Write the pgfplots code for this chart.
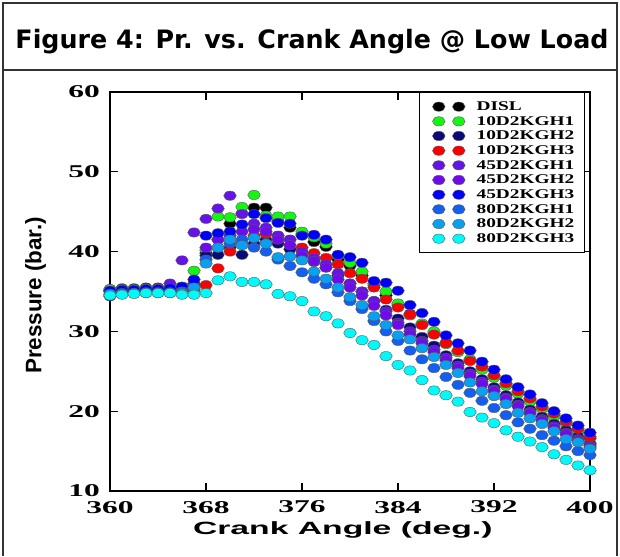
\documentclass[border=0pt]{standalone}
\usepackage{pgfplots}
\pgfplotsset{compat=1.18}
\usepackage{pgfplotstable}
\usepackage{fontspec}
\setmainfont{Liberation Serif}
\newfontfamily\tickfont[FakeStretch=1.75]{Liberation Serif}
\newfontfamily\legfont[FakeStretch=1.45]{Liberation Serif}
\newfontfamily\ylabfont{Liberation Sans}
\newfontfamily\xlabfont[FakeStretch=1.9]{Liberation Sans}
\newfontfamily\titlefont{DejaVu Sans}

\definecolor{cDISL}{RGB}{0,0,0}
\definecolor{cGa}{RGB}{20,245,20}
\definecolor{cGb}{RGB}{10,10,120}
\definecolor{cGc}{RGB}{250,0,0}
\definecolor{cPa}{RGB}{100,20,230}
\definecolor{cPb}{RGB}{110,10,235}
\definecolor{cPc}{RGB}{0,0,250}
\definecolor{cCa}{RGB}{20,95,240}
\definecolor{cCb}{RGB}{10,160,240}
\definecolor{cCc}{RGB}{0,250,250}

% crank angle, then pressure for each blend
\pgfplotstableread{
a   disl g1   g2   g3   p1   p2   p3   c1   c2   c3
360 35.3 35.3 34.4 35.0 35.1 35.0 35.1 34.6 34.7 34.5
361 35.4 35.3 34.9 35.0 35.2 35.0 35.2 34.8 34.7 34.6
362 35.4 35.3 34.9 35.1 35.2 35.1 35.2 34.8 34.8 34.7
363 35.5 35.4 35.0 35.1 35.3 35.1 35.3 34.9 34.8 34.8
364 35.5 35.4 35.0 35.1 35.4 35.2 35.3 34.9 34.8 34.8
365 35.5 35.5 35.0 35.1 36.0 35.3 35.4 34.9 34.8 34.8
366 35.6 35.6 35.0 35.1 38.9 35.3 35.6 35.0 34.8 34.6
367 36.0 37.6 35.5 35.2 42.4 36.0 36.5 35.3 35.5 34.6
368 39.8 40.2 39.5 35.8 44.1 40.5 42.0 39.0 38.5 34.8
369 41.5 44.4 39.6 37.9 45.4 41.5 42.3 40.5 40.5 36.4
370 43.5 44.3 40.5 40.0 47.0 42.0 42.5 41.0 41.5 36.9
371 44.8 45.6 39.6 41.0 44.7 42.5 43.4 41.5 40.8 36.2
372 45.5 47.1 41.0 42.0 43.5 42.8 44.7 40.5 41.7 36.2
373 45.5 44.5 41.5 42.2 43.0 42.5 44.2 40.0 41.0 35.9
374 43.8 44.4 41.0 42.0 42.0 41.5 43.6 39.0 39.3 34.7
375 43.0 44.4 40.3 41.5 41.5 40.8 43.5 38.2 39.4 34.4
376 42.2 42.5 39.5 40.5 40.0 39.5 42.0 37.4 38.9 33.8
377 41.2 41.8 38.7 39.8 39.2 38.8 42.1 36.6 37.5 32.5
378 40.6 41.0 38.0 39.2 38.4 38.0 41.5 35.9 36.6 31.9
379 39.0 39.5 37.0 38.4 37.3 36.5 39.6 34.9 35.5 31.0
380 38.2 38.6 36.0 37.3 36.0 35.5 39.3 33.8 34.3 29.8
381 37.0 37.5 35.0 36.6 35.0 34.5 38.6 32.8 33.3 28.9
382 35.8 36.0 33.8 35.5 33.8 33.2 36.3 31.3 31.9 28.3
383 34.5 35.0 32.7 34.0 32.5 32.0 36.1 30.0 30.8 26.9
384 33.3 33.5 31.6 33.0 31.1 30.8 35.1 28.8 29.5 25.8
385 32.2 32.0 30.5 32.1 30.0 29.6 33.3 27.6 29.0 25.1
386 30.9 31.0 29.3 30.8 28.8 28.5 32.3 26.5 27.9 23.9
387 29.8 30.0 28.2 29.6 27.7 27.4 31.2 25.4 26.8 22.6
388 28.6 28.4 27.0 28.5 26.7 26.4 29.5 24.3 25.8 22.0
389 27.5 27.4 26.0 27.6 25.7 25.4 28.5 23.3 24.8 21.2
390 26.4 26.5 25.0 26.3 24.7 24.4 27.6 22.3 23.6 19.9
391 25.3 25.2 24.0 25.6 23.7 23.4 26.2 21.3 22.5 19.2
392 24.3 24.2 23.0 24.5 22.7 22.5 25.2 20.4 21.9 18.5
393 23.3 23.2 22.0 23.5 21.7 21.5 24.0 19.5 20.9 17.6
394 22.3 22.2 21.1 22.5 20.8 20.6 23.0 18.6 19.8 16.8
395 21.4 21.2 20.2 21.6 19.9 19.7 22.1 17.8 19.1 16.2
396 20.4 20.3 19.3 20.6 19.0 18.8 21.0 17.0 18.4 15.5
397 19.5 19.3 18.4 19.7 18.1 17.9 20.0 16.3 17.5 14.6
398 18.5 18.5 17.6 18.7 17.3 17.1 19.1 15.6 16.5 13.9
399 17.6 17.4 16.8 17.8 16.5 16.3 18.2 15.0 16.1 13.2
400 16.6 16.0 15.9 16.8 15.7 15.5 17.3 14.5 15.3 12.6
}\pressdata

\pgfplotsset{
  dot/.style={only marks, mark=*, mark size=3.5pt,
    mark options={xscale=1.35, fill=#1, draw=black!65, line width=0.3pt}},
}

\begin{document}
\begin{tikzpicture}
\useasboundingbox (0,0) rectangle (465pt,417pt);
\draw[black!80, line width=1.1pt] (2.25pt,0) -- (2.25pt,414.75pt) -- (462.75pt,414.75pt) -- (462.75pt,0);
\draw[black!80, line width=1.1pt] (2.25pt,364.5pt) -- (462.75pt,364.5pt);
\node[font=\titlefont\bfseries\fontsize{19}{22}\selectfont, anchor=center] at (234pt,386pt)
  {Figure 4: Pr. vs. Crank Angle @ Low Load};
\begin{axis}[
    at={(82.5pt,48.75pt)}, anchor=south west,
    scale only axis,
    width=360pt, height=299.25pt,
    xmin=360, xmax=400, ymin=10, ymax=60,
    xtick={360,368,...,400}, ytick={10,20,...,60},
    tick align=inside, major tick length=6pt,
    axis line style={line width=1.1pt},
    every tick/.style={black, line width=0.8pt},
    /pgf/number format/assume math mode=true,
    tick label style={font=\tickfont\bfseries\fontsize{13.5}{14}\selectfont},
    yticklabel style={xshift=-4pt},
    xticklabel style={yshift=-4pt},
    xlabel={Crank Angle (deg.)},
    ylabel={Pressure (bar.)},
    xlabel style={font=\xlabfont\bfseries\fontsize{13.3}{15}\selectfont,
      at={(axis description cs:0.485,-0.097)}, anchor=center},
    ylabel style={font=\ylabfont\bfseries\fontsize{16.8}{18}\selectfont,
      at={(axis description cs:-0.155,0.49)}, anchor=center},
    legend cell align=left,
    legend image code/.code={\path (0pt,0pt) (34.5pt,0pt);
      \draw[#1] plot coordinates {(8.2pt,0pt) (23.2pt,0pt)};},
    legend style={at={(0.99,1.0)}, anchor=north east, draw=black, line width=1pt,
      font=\legfont\bfseries\fontsize{10}{11}\selectfont,
      nodes={inner xsep=1.6pt, inner ysep=1.2pt, text height=7.2pt, text depth=1.4pt},
      inner xsep=6pt, inner ysep=5pt},
  ]
  \addplot[dot=cDISL] table[x=a, y=disl] {\pressdata};
  \addplot[dot=cGa] table[x=a, y=g1] {\pressdata};
  \addplot[dot=cGb] table[x=a, y=g2] {\pressdata};
  \addplot[dot=cGc] table[x=a, y=g3] {\pressdata};
  \addplot[dot=cPa] table[x=a, y=p1] {\pressdata};
  \addplot[dot=cPb] table[x=a, y=p2] {\pressdata};
  \addplot[dot=cPc] table[x=a, y=p3] {\pressdata};
  \addplot[dot=cCa] table[x=a, y=c1] {\pressdata};
  \addplot[dot=cCb] table[x=a, y=c2] {\pressdata};
  \addplot[dot=cCc] table[x=a, y=c3] {\pressdata};
  \legend{DISL,10D2KGH1,10D2KGH2,10D2KGH3,45D2KGH1,45D2KGH2,45D2KGH3,80D2KGH1,80D2KGH2,80D2KGH3}
\end{axis}
\end{tikzpicture}
\end{document}
